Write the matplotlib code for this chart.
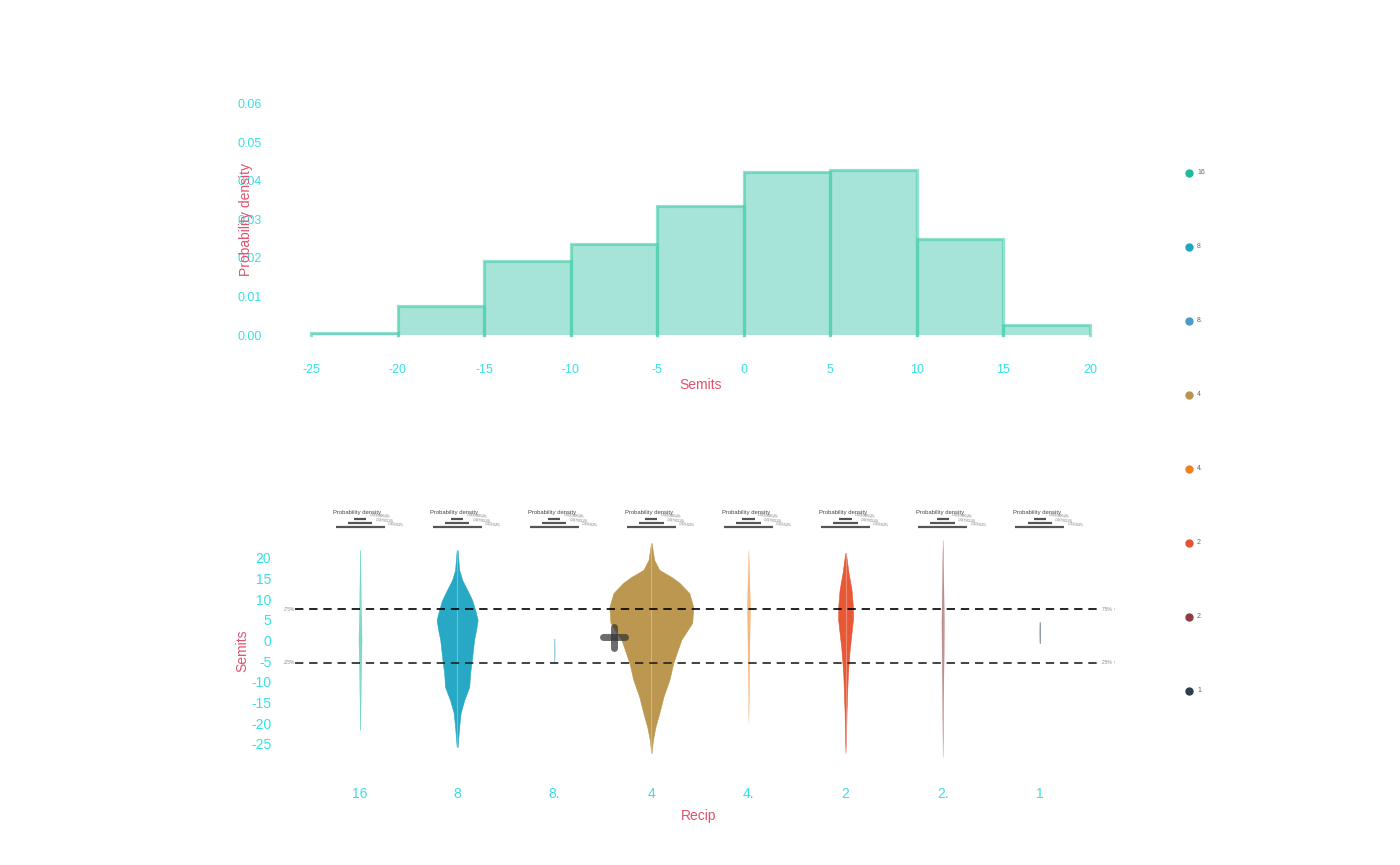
import numpy as np
import matplotlib
matplotlib.use("Agg")
import matplotlib.pyplot as plt
from matplotlib.lines import Line2D
import matplotlib.transforms as mtransforms

plt.rcParams['font.family'] = ['Liberation Sans', 'DejaVu Sans']
plt.rcParams['axes.unicode_minus'] = False

# ---- data: histogram of semits ----
bin_edges = [-25, -20, -15, -10, -5, 0, 5, 10, 15, 20]
bin_density = [0.0005, 0.0075, 0.0193, 0.0236, 0.0335, 0.0423, 0.0428, 0.0249, 0.0026]

# ---- data: violins by recip ----
recip_labels = ['16', '8', '8.', '4', '4.', '2', '2.', '1']
recip_colors = ['#1abc9c', '#20a5c2', '#4a9bc8', '#b9944a', '#f0821e', '#e8512f', '#8e3e3e', '#2c3e50']

v16_semits = [21.9, 9.8, 0.2, -9.5, -21.6]
v16_dens = [0.0001, 0.0005, 0.0010, 0.0005, 0.0001]
v8_semits = [21.9, 17.1, 14.7, 12.3, 9.8, 7.4, 5.0, 2.6, 0.2, -4.0, -7.8, -11.2, -14.4, -17.5, -20.9, -25.7]
v8_dens = [0.0003, 0.0013, 0.0032, 0.0064, 0.0096, 0.0115, 0.0131, 0.0121, 0.0108, 0.0096, 0.0083,
           0.0077, 0.0045, 0.0022, 0.0013, 0.0003]
v8d_semits = [0.5, -1.5, -3.5, -5.4]
v8d_dens = [0.0002, 0.0003, 0.0003, 0.0001]
v4_semits = [23.6, 19.5, 17.1, 15.4, 14.0, 11.5, 8.1, 4.3, 0.2, -5.4, -9.5, -13.6, -17.5, -20.9,
             -24.0, -27.2]
v4_dens = [0.0002, 0.0018, 0.0051, 0.0128, 0.0179, 0.0242, 0.0268, 0.0261, 0.0191, 0.0140, 0.0115,
           0.0077, 0.0051, 0.0026, 0.0010, 0.0001]
v4d_semits = [21.9, 14.7, 8.1, 0.2, -9.5, -19.9]
v4d_dens = [0.0, 0.0005, 0.0010, 0.0006, 0.0003, 0.0]
v2_semits = [21.2, 16.4, 12.3, 8.1, 5.0, 1.9, -2.3, -7.8, -11.9, -17.5, -24.0, -27.2]
v2_dens = [0.0002, 0.0019, 0.0038, 0.0047, 0.0047, 0.0038, 0.0026, 0.0015, 0.0011, 0.0006, 0.0003, 0.0]
v2d_semits = [24.4, 14.7, 4.3, -4.7, -14.4, -28.1]
v2d_dens = [0.0, 0.0004, 0.0008, 0.0006, 0.0003, 0.0]
v1_semits = [4.5, 2.0, -0.6]
v1_dens = [0.0002, 0.0003, 0.0002]

violin_semits = [v16_semits, v8_semits, v8d_semits, v4_semits, v4d_semits, v2_semits, v2d_semits, v1_semits]
violin_dens = [v16_dens, v8_dens, v8d_dens, v4_dens, v4d_dens, v2_dens, v2d_dens, v1_dens]

quartile_75 = 7.6
quartile_25 = -5.4
mean_x = 2.615
mean_y = 0.9

scale_ticks = [0.00390625, 0.0078125, 0.015625]
scale_labels = ['.00390625', '.0078125', '.015625']

tick_col = '#35e0e6'
label_col = '#e0526c'

fig = plt.figure(figsize=(14, 8.65), dpi=100)

# ---- top: histogram ----
ax1 = fig.add_axes([0.2098, 0.6038, 0.5811, 0.2849])
ax1.stairs(bin_density, bin_edges, fill=True, color='#a6e4d8', lw=0)
for i in range(len(bin_density)):
    ax1.plot([bin_edges[i], bin_edges[i], bin_edges[i + 1], bin_edges[i + 1]],
             [0, bin_density[i], bin_density[i], 0],
             color='#4ccfae', lw=2.3, alpha=0.6, solid_joinstyle='miter')
ax1.set_xlim(-26, 21)
ax1.set_ylim(-0.002, 0.062)
ax1.set_xticks(range(-25, 21, 5))
ax1.set_yticks(np.arange(0, 0.061, 0.01))
ax1.set_yticklabels(['%.2f' % t for t in np.arange(0, 0.061, 0.01)])
ax1.tick_params(length=0, colors=tick_col, labelsize=9)
ax1.tick_params(axis='y', pad=23)
ax1.tick_params(axis='x', pad=15)
for s in ax1.spines.values():
    s.set_visible(False)
ax1.set_xlabel('Semits', color=label_col, fontsize=10, labelpad=2)
ax1.set_ylabel('Probability density', color=label_col, fontsize=10, labelpad=-11)

# ---- bottom: violins ----
ax2 = fig.add_axes([0.2107, 0.1160, 0.5761, 0.2629])
half_scale = 0.504 / scale_ticks[2] / 2.0
for i in range(len(recip_labels)):
    ys = np.array(violin_semits[i])
    hw = np.array(violin_dens[i]) * half_scale
    thin = max(violin_dens[i]) < 0.003
    ax2.fill_betweenx(ys, i - hw, i + hw, color=recip_colors[i], alpha=0.55 if thin else 0.97,
                      edgecolor=recip_colors[i], lw=0.25 if thin else 0.4, zorder=2)
    if not thin:
        ax2.plot([i, i], [ys.min(), ys.max()], color='white', lw=0.8, alpha=0.3, zorder=3)

ax2.axhline(quartile_75, color='black', ls=(0, (5, 3.5)), lw=1.2, zorder=4)
ax2.axhline(quartile_25, color='#222222', ls=(0, (5, 3.5)), lw=1.2, zorder=4)
# mean cross
ax2.plot([mean_x - 0.11, mean_x + 0.11], [mean_y, mean_y], color='#333333', lw=5,
         alpha=0.72, solid_capstyle='round', zorder=5)
ax2.plot([mean_x, mean_x], [mean_y + 2.4, mean_y - 2.6], color='#333333', lw=5,
         alpha=0.72, solid_capstyle='round', zorder=5)

ax2.set_xlim(-0.67, 7.636)
ax2.set_ylim(-30, 25)
ax2.set_xticks(range(len(recip_labels)))
ax2.set_xticklabels(recip_labels)
ax2.set_yticks(range(20, -26, -5))
ax2.tick_params(length=0, colors=tick_col, labelsize=10)
ax2.tick_params(axis='y', pad=17)
ax2.tick_params(axis='x', pad=16)
for s in ax2.spines.values():
    s.set_visible(False)
ax2.set_xlabel('Recip', color=label_col, fontsize=10, labelpad=6)
ax2.set_ylabel('Semits', color=label_col, fontsize=10, labelpad=1.5)

# quartile labels
ax2.text(-0.672, quartile_75, '\u219375%', fontsize=3.5, color='#888888', ha='right', va='center')
ax2.text(-0.672, quartile_25, '\u219325%', fontsize=3.5, color='#888888', ha='right', va='center')
ax2.text(7.64, quartile_75, '75% \u2191', fontsize=3.5, color='#888888', ha='left', va='center')
ax2.text(7.64, quartile_25, '25% \u2191', fontsize=3.5, color='#888888', ha='left', va='center')

# density scale headers
trans = mtransforms.blended_transform_factory(ax2.transData, ax2.transAxes)
bar_y = [1.082, 1.064, 1.047]
for i in range(len(recip_labels)):
    ax2.text(i - 0.275, 1.107, 'Probability density', transform=trans, fontsize=4.2,
             color='#444444', ha='left', va='center', clip_on=False)
    for k in range(3):
        w = scale_ticks[k] * half_scale
        ax2.plot([i - w, i + w], [bar_y[k], bar_y[k]], transform=trans, color='#555555',
                 lw=1.6, clip_on=False, solid_capstyle='butt')
        ax2.text(i + w + 0.03, bar_y[k] + 0.01, scale_labels[k], transform=trans,
                 fontsize=3.2, color='#777777', ha='left', va='center', rotation=-5,
                 clip_on=False)

# legend
leg_y = [173, 247, 321, 395, 469, 543, 617, 691]
for i in range(len(recip_labels)):
    fy = 1 - leg_y[i] / 865.0
    fig.add_artist(Line2D([1189 / 1400.0], [fy], marker='o', ms=5, color=recip_colors[i],
                          ls='none', transform=fig.transFigure))
    fig.text(1197 / 1400.0, fy, recip_labels[i], fontsize=5, color='#666666', va='center')

fig.savefig('out.png', dpi=100)
